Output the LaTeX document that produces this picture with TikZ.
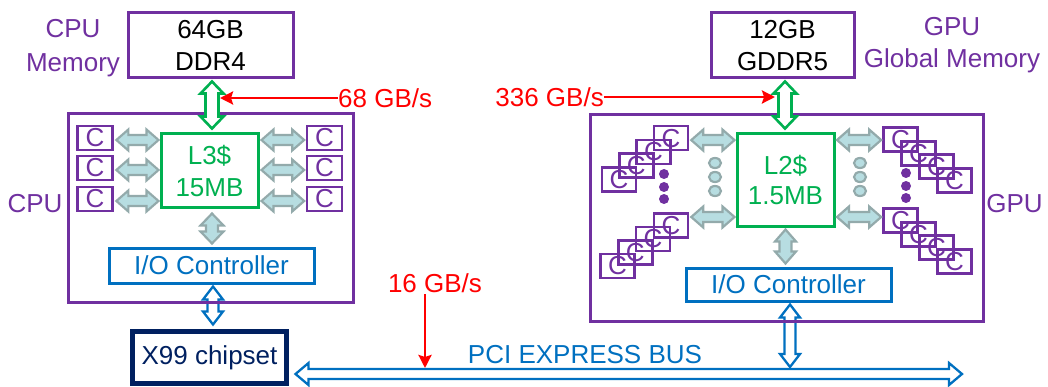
\documentclass[tikz,border=0pt]{standalone}
\usepackage{fontspec}
\setmainfont{Liberation Sans}
\usetikzlibrary{calc,arrows.meta,shapes.geometric}
\definecolor{cpurple}{HTML}{7030A0}
\definecolor{cgreen}{HTML}{00B050}
\definecolor{cblue}{HTML}{0070C0}
\definecolor{cnavy}{HTML}{002060}
\definecolor{cred}{HTML}{FF0000}
\definecolor{gfill}{HTML}{B7DDE1}
\definecolor{gdraw}{HTML}{93AAAB}
\tikzset{
  hdbl/.style n args={3}{to path={let \p1=(\tikztostart), \p2=(\tikztotarget) in
    (\x1,\y1) -- (\x1+#3,\y1+#2) -- (\x1+#3,\y1+#1) -- (\x2-#3,\y1+#1) -- (\x2-#3,\y1+#2)
    -- (\x2,\y1) -- (\x2-#3,\y1-#2) -- (\x2-#3,\y1-#1) -- (\x1+#3,\y1-#1) -- (\x1+#3,\y1-#2) -- cycle}},
  vdbl/.style n args={3}{to path={let \p1=(\tikztostart), \p2=(\tikztotarget) in
    (\x1,\y1) -- (\x1+#2,\y1-#3) -- (\x1+#1,\y1-#3) -- (\x1+#1,\y2+#3) -- (\x1+#2,\y2+#3)
    -- (\x1,\y2) -- (\x1-#2,\y2+#3) -- (\x1-#1,\y2+#3) -- (\x1-#1,\y1-#3) -- (\x1-#2,\y1-#3) -- cycle}},
  txt/.style={inner sep=0pt, font=\fontsize{26}{32}\selectfont},
  bx/.style={draw, rectangle, inner sep=0pt, line width=3pt, txt},
  cbox/.style={bx, draw=cpurple, text=cpurple, line width=2.7pt, minimum width=35, minimum height=24},
  sbox/.style={cbox, minimum width=34, minimum height=24},
  garr/.style={draw=gdraw, fill=gfill, line width=2.2pt, line join=miter},
  grarr/.style={draw=cgreen, fill=white, line width=2.6pt, line join=miter},
  blarr/.style={draw=cblue, fill=white, line width=2.3pt, line join=miter},
  redarr/.style={draw=cred, line width=2.6pt, -{Stealth[length=13pt,width=13pt,inset=2pt]}},
  gcirc/.style={ellipse, draw=gdraw, fill=gfill, line width=2.2pt, minimum width=12, minimum height=10, inner sep=0pt},
  pdot/.style={circle, fill=cpurple, minimum size=10, inner sep=0pt},
}
\begin{document}
\begin{tikzpicture}[x=1pt,y=-1pt]
\useasboundingbox (0,0) rectangle (1048,387);

% memories and labels
\node[txt, text=cpurple, align=center, font=\fontsize{26}{34}\selectfont] (cpumemlbl) at (73,47.7) {CPU\\Memory};
\node[bx, draw=cpurple, minimum width=165, minimum height=65, align=center] (cpumem) at (210.5,45.5) {64GB\\DDR4};
\node[bx, draw=cpurple, minimum width=143, minimum height=65, align=center] (gpumem) at (782.5,45.5) {12GB\\GDDR5};
\node[txt, text=cpurple, align=center] (gpumemlbl) at (952,44.7) {GPU\\Global Memory};

% inner blocks
\node[bx, draw=cgreen, text=cgreen, minimum width=97, minimum height=74, align=center] (l3) at (209.5,171) {L3\$\\15MB};
\node[bx, draw=cgreen, text=cgreen, minimum width=97, minimum height=93, align=center, font=\fontsize{26}{30}\selectfont] (l2) at (785.5,180.5) {L2\$\\1.5MB};
\node[bx, draw=cblue, text=cblue, minimum width=205, minimum height=35] (cio) at (211.5,265.5) {I/O Controller};
\node[bx, draw=cblue, text=cblue, minimum width=205, minimum height=33] (gio) at (788.5,284.5) {I/O Controller};
\node[bx, draw=cnavy, text=cnavy, line width=5pt, minimum width=154, minimum height=52] (x99) at (209.5,357.5) {X99 chipset};

% CPU cores
\foreach \i/\yy in {1/138,2/168,3/199}{
  \node[cbox] (cl\i) at (95,\yy) {C};
  \node[cbox] (cr\i) at (324.5,\yy) {C};
}
% GPU core stacks
\foreach \i in {0,...,3}{
  \node[sbox] (lt\i) at ({619+17.3*\i},{179.5-13.8*\i}) {C};
  \node[sbox] (lb\i) at ({617.5+17.8*\i},{266-13.5*\i}) {C};
  \node[sbox] (rt\i) at ({900.5+18*\i},{139.5+13.67*\i}) {C};
  \node[sbox] (rb\i) at ({900.5+18*\i},{220.5+13.67*\i}) {C};
}
% dots
\foreach \yy in {163,177,191}{
  \node[gcirc] (gcl\yy) at (715,\yy) {};
  \node[gcirc] (gcr\yy) at (860,\yy) {};
}
\foreach \yy in {174,187,199}{
  \node[pdot] (pdl\yy) at (664,\yy) {};
  \node[pdot] (pdr\yy) at (906,{\yy-1}) {};
}

% gray arrows CPU
\foreach \i in {1,2,3}{
  \draw[garr] ($(cl\i.east)+(2.5,2)$) to[hdbl={5pt}{10.5pt}{12pt}] ($(l3.west)+(-1,0)$);
  \draw[garr] ($(l3.east |- cr\i.west)+(2,2)$) to[hdbl={5pt}{10.5pt}{12pt}] ($(cr\i.west)+(-1.5,0)$);
}
\draw[garr] ($(l3.south)+(2.5,4)$) to[vdbl={6pt}{11.5pt}{12pt}] ($(cio.north)+(0,-3)$);
% gray arrows GPU
\draw[garr] ($(lt3.east)+(2,2)$) to[hdbl={5pt}{10.5pt}{12pt}] ($(l2.west)+(-1,0)$);
\draw[garr] ($(lb3.east)+(2,-8.5)$) to[hdbl={5pt}{10.5pt}{12pt}] ($(l2.west)+(-1,0)$);
\draw[garr] ($(l2.east |- rt0.west)+(1.5,0.5)$) to[hdbl={5pt}{10.5pt}{12pt}] ($(rt0.west)+(-1,0)$);
\draw[garr] ($(l2.east |- rb0.west)+(1.5,-3.5)$) to[hdbl={5pt}{10.5pt}{12pt}] ($(rb0.west)+(-1,0)$);
\draw[garr] ($(l2.south)+(0,1)$) to[vdbl={6pt}{10.5pt}{12pt}] ($(gio.north)+(0,-3)$);

% blue arrows and bus
\coordinate (busR) at (962,374);
\coordinate (busJ) at (790,367);
\draw[blarr] ($(cio.south)+(1.5,2)$) to[vdbl={5.5pt}{10pt}{13pt}] ($(x99.north)+(0,-4.5)$);
\draw[blarr] ($(gio.south)+(1.5,2)$) to[vdbl={5.5pt}{10pt}{13pt}] (busJ);
\draw[blarr] ($(x99.east |- busR)+(6.5,0)$) to[hdbl={5pt}{11pt}{13pt}] (busR);
\node[txt, text=cblue, anchor=base] (pcilbl) at (585,363) {PCI EXPRESS BUS};

% outer boxes
\node[bx, draw=cpurple, minimum width=285, minimum height=188] (cpu) at (210.5,208) {};
\node[bx, draw=cpurple, minimum width=393, minimum height=206] (gpu) at (786.5,218) {};
\node[txt, text=cpurple, anchor=base] (cpulbl) at (35,213) {CPU};
\node[txt, text=cpurple, anchor=base] (gpulbl) at (1014.5,213) {GPU};

% green arrows
\draw[grarr] ($(cpumem.south)+(1.5,2)$) to[vdbl={6.5pt}{11.5pt}{12pt}] ($(l3.north)+(0,-4)$);
\draw[grarr] ($(gpumem.south)+(2.5,2)$) to[vdbl={6.5pt}{11.5pt}{12pt}] ($(l2.north)+(0,-4)$);

% red bandwidth labels
\node[txt, text=cred, anchor=west] (t68) at (338,98) {68 GB/s};
\coordinate (g68) at (220,98);
\draw[redarr] (t68.west) -- (g68);
\node[txt, text=cred, anchor=east] (t336) at (604,97) {336 GB/s};
\coordinate (g336) at (775,97);
\draw[redarr] (t336.east) -- (g336);
\node[txt, text=cred, anchor=base] (t16) at (435,292) {16 GB/s};
\coordinate (b16) at (425,368);
\draw[redarr] ($(t16.south -| b16)+(0,2)$) -- (b16);
\end{tikzpicture}
\end{document}
